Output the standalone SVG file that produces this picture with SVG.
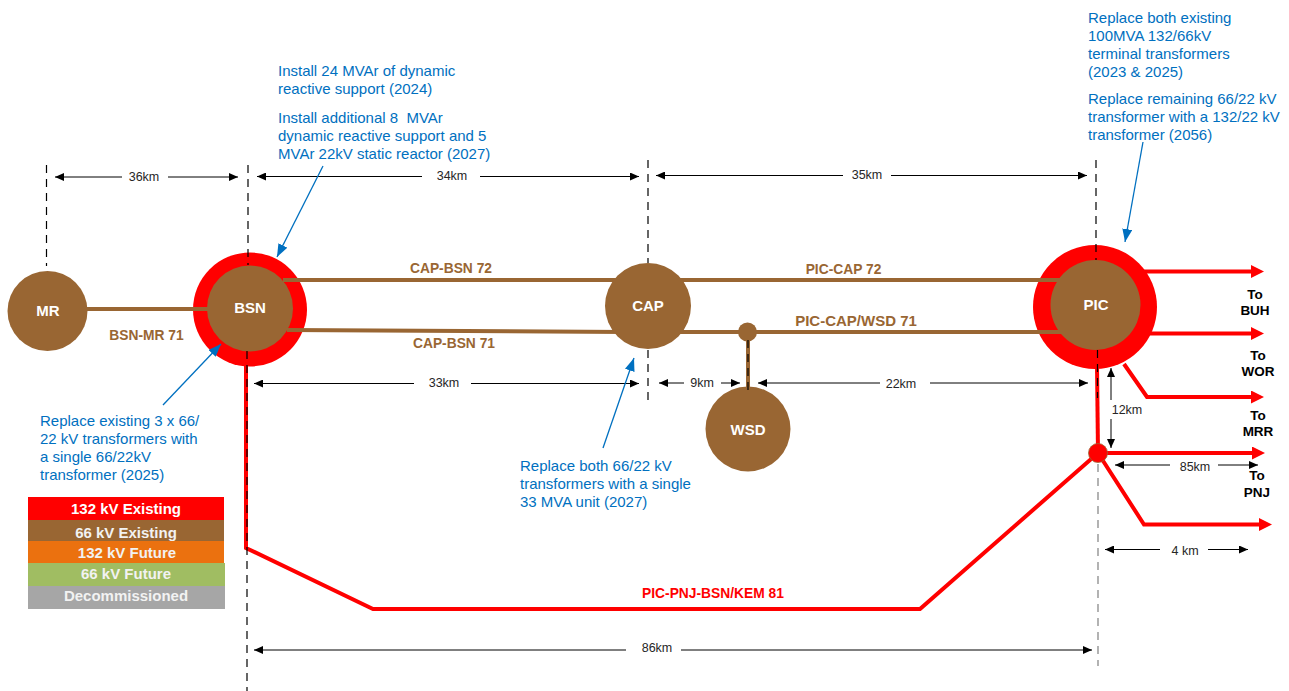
<svg xmlns="http://www.w3.org/2000/svg" width="1289" height="691" viewBox="0 0 1289 691">
<style>
text{font-family:"Liberation Sans",Arial,sans-serif}
.note{fill:#0070c0;font-size:15px}
.dim{fill:#262626;font-size:12.500px;text-anchor:middle}
.nl{fill:#fff;font-size:15px;font-weight:bold;text-anchor:middle}
.brown{fill:#996633;font-size:13.800px;font-weight:bold;text-anchor:middle}
.redt{fill:#f00;font-size:13.800px;font-weight:bold;text-anchor:middle}
.to{fill:#000;font-size:13.500px;font-weight:bold;text-anchor:middle}
.leg{fill:#f2f2f2;font-size:15px;font-weight:bold;text-anchor:middle}
.bl{stroke:#996633;stroke-width:4;fill:none}
.rl{stroke:#f00;stroke-width:4;fill:none}
.dash{stroke:#000;stroke-width:1.200;stroke-dasharray:8 6;fill:none}
.dimline{stroke:#000;stroke-width:1;fill:none;marker-start:url(#ds);marker-end:url(#de)}
.call{stroke:#0070c0;stroke-width:1.300;fill:none;marker-end:url(#ab)}
</style>
<defs>
<marker id="de" markerUnits="userSpaceOnUse" markerWidth="9" markerHeight="8" refX="9" refY="4" orient="auto"><path d="M0 0L9 4L0 8z" fill="#000"/></marker>
<marker id="ds" markerUnits="userSpaceOnUse" markerWidth="9" markerHeight="8" refX="0" refY="4" orient="auto"><path d="M9 0L0 4L9 8z" fill="#000"/></marker>
<marker id="ab" markerUnits="userSpaceOnUse" markerWidth="13" markerHeight="10" refX="13" refY="5" orient="auto"><path d="M0 0L13 5L0 10z" fill="#0070c0"/></marker>
<marker id="ar" markerUnits="userSpaceOnUse" markerWidth="13" markerHeight="13" refX="2" refY="6.500" orient="auto"><path d="M0 0L13 6.500L0 13z" fill="#f00"/></marker>
</defs>
<g id="node-MR"><circle cx="47.500" cy="311" r="40" fill="#996633"/><text class="nl" x="48" y="316">MR</text></g>
<g id="node-BSN"><circle cx="250" cy="309.500" r="57" fill="#f00"/><circle cx="250" cy="308.500" r="43" fill="#996633"/><text class="nl" x="250" y="313">BSN</text></g>
<g id="node-CAP"><circle cx="648" cy="306" r="43" fill="#996633"/><text class="nl" x="648" y="311">CAP</text></g>
<g id="node-WSD"><circle cx="748" cy="429" r="42.500" fill="#996633"/><text class="nl" x="748" y="435">WSD</text></g>
<g id="node-J1"><circle cx="747.500" cy="332" r="9.500" fill="#996633"/></g>
<g id="node-PIC"><circle cx="1095" cy="307" r="62" fill="#f00"/><circle cx="1095.500" cy="305" r="45" fill="#996633"/><text class="nl" x="1096" y="310">PIC</text></g>
<g id="connectors">
<path class="bl" d="M85 309H215"/>
<path class="bl" d="M283 280H625"/>
<path class="bl" d="M287 330L625 332"/>
<path class="bl" d="M670 280H1062"/>
<path class="bl" d="M670 332H1062"/>
<path class="bl" d="M748 335V392"/>
<path class="rl" d="M246 360V548L373 609H920L1098 453"/>
<path class="rl" d="M1097 365L1098 453"/>
<path class="rl" d="M1143 271.500H1253" marker-end="url(#ar)"/>
<path class="rl" d="M1150 333.500H1253" marker-end="url(#ar)"/>
<path class="rl" d="M1124 364L1147 397H1253" marker-end="url(#ar)"/>
<path class="rl" d="M1098 453H1254" marker-end="url(#ar)"/>
<path class="rl" d="M1098 453L1144 524.500H1261" marker-end="url(#ar)"/>
</g>
<g id="node-J2"><circle cx="1098" cy="453" r="9.500" fill="#f00" stroke="#996633" stroke-width="0.800"/></g>
<g id="dimension-lines">
<path class="dash" d="M46.500 165V266"/>
<path class="dash" d="M248 165V265"/>
<path class="dash" d="M247 351V691"/>
<path class="dash" d="M648 160V263"/>
<path class="dash" d="M648 350V400"/>
<path class="dash" d="M1096 160V260"/>
<path class="dash" d="M1097.500 350V398"/>
<path class="dash" d="M1098 464V666" style="stroke:#808080"/>
<path class="dash" d="M748 340V392"/>
<path class="dimline" d="M55 177H238" stroke-dasharray="67 46 70"/>
<path class="dimline" d="M257 176.500H639" stroke-dasharray="165 58 159"/>
<path class="dimline" d="M656 175.500H1087" stroke-dasharray="187 48 196"/>
<path class="dimline" d="M254 383.500H639" stroke-dasharray="160 57 168"/>
<path class="dimline" d="M659 383H740" stroke-dasharray="25 37 19"/>
<path class="dimline" d="M758 383H1088" stroke-dasharray="122 50 158"/>
<path class="dimline" d="M1111 368V448" stroke-dasharray="32 19 29"/>
<path class="dimline" d="M1115 465H1258" stroke-dasharray="55 48 40"/>
<path class="dimline" d="M1105 549.500H1248" stroke-dasharray="55 48 40"/>
<path class="dimline" d="M254 650H1092" stroke-dasharray="372 55 411"/>
<text class="dim" x="144" y="181">36km</text>
<text class="dim" x="452" y="180">34km</text>
<text class="dim" x="867" y="179">35km</text>
<text class="dim" x="444" y="387">33km</text>
<text class="dim" x="702" y="387">9km</text>
<text class="dim" x="901" y="388">22km</text>
<text class="dim" x="1127" y="414">12km</text>
<text class="dim" x="1195" y="471">85km</text>
<text class="dim" x="1185" y="555">4 km</text>
<text class="dim" x="657" y="652">86km</text>
</g>
<g id="callouts">
<path class="call" d="M323 166L277 257"/>
<path class="call" d="M163 405L221 344"/>
<path class="call" d="M603 448L634 358"/>
<path class="call" d="M1143 142L1125 242"/>
<text class="note"><tspan x="278" y="76">Install 24 MVAr of dynamic</tspan><tspan x="278" y="94">reactive support (2024)</tspan></text>
<text class="note"><tspan x="278" y="123">Install additional 8&#160; MVAr</tspan><tspan x="278" y="141">dynamic reactive support and 5</tspan><tspan x="278" y="159">MVAr 22kV static reactor (2027)</tspan></text>
<text class="note"><tspan x="40" y="426">Replace existing 3 x 66/</tspan><tspan x="40" y="444">22 kV transformers with</tspan><tspan x="40" y="462">a single 66/22kV</tspan><tspan x="40" y="480">transformer (2025)</tspan></text>
<text class="note"><tspan x="520" y="471">Replace both 66/22 kV</tspan><tspan x="520" y="489">transformers with a single</tspan><tspan x="520" y="507">33 MVA unit (2027)</tspan></text>
<text class="note"><tspan x="1088" y="23">Replace both existing</tspan><tspan x="1088" y="41">100MVA 132/66kV</tspan><tspan x="1088" y="59">terminal transformers</tspan><tspan x="1088" y="77">(2023 &amp; 2025)</tspan></text>
<text class="note"><tspan x="1088" y="104">Replace remaining 66/22 kV</tspan><tspan x="1088" y="122">transformer with a 132/22 kV</tspan><tspan x="1088" y="140">transformer (2056)</tspan></text>
</g>
<g id="labels">
<text class="brown" x="451" y="273">CAP-BSN 72</text>
<text class="brown" x="454" y="348">CAP-BSN 71</text>
<text class="brown" x="146.500" y="340">BSN-MR 71</text>
<text class="brown" x="843.500" y="274">PIC-CAP 72</text>
<text class="brown" x="856" y="325.500" style="font-size:15px">PIC-CAP/WSD 71</text>
<text class="redt" x="713" y="598">PIC-PNJ-BSN/KEM 81</text>
<text class="to"><tspan x="1255" y="299">To</tspan><tspan x="1255" y="315">BUH</tspan></text>
<text class="to"><tspan x="1258" y="360">To</tspan><tspan x="1258" y="376">WOR</tspan></text>
<text class="to"><tspan x="1258" y="420">To</tspan><tspan x="1258" y="436">MRR</tspan></text>
<text class="to"><tspan x="1257" y="480">To</tspan><tspan x="1257" y="497">PNJ</tspan></text>
</g>
<g id="legend">
<rect x="28" y="497" width="196" height="23" fill="#f00"/><text class="leg" x="126" y="514" style="fill:#fff">132 kV Existing</text>
<rect x="28" y="520" width="196" height="21" fill="#996633"/><text class="leg" x="126" y="538">66 kV Existing</text>
<rect x="28" y="541" width="196" height="22" fill="#eb710f"/><text class="leg" x="127" y="558">132 kV Future</text>
<rect x="28" y="563" width="197" height="23" fill="#a0bd62"/><text class="leg" x="126" y="579">66 kV Future</text>
<rect x="28" y="586" width="197" height="23" fill="#a6a6a6"/><text class="leg" x="126" y="601">Decommissioned</text>
</g>
</svg>
